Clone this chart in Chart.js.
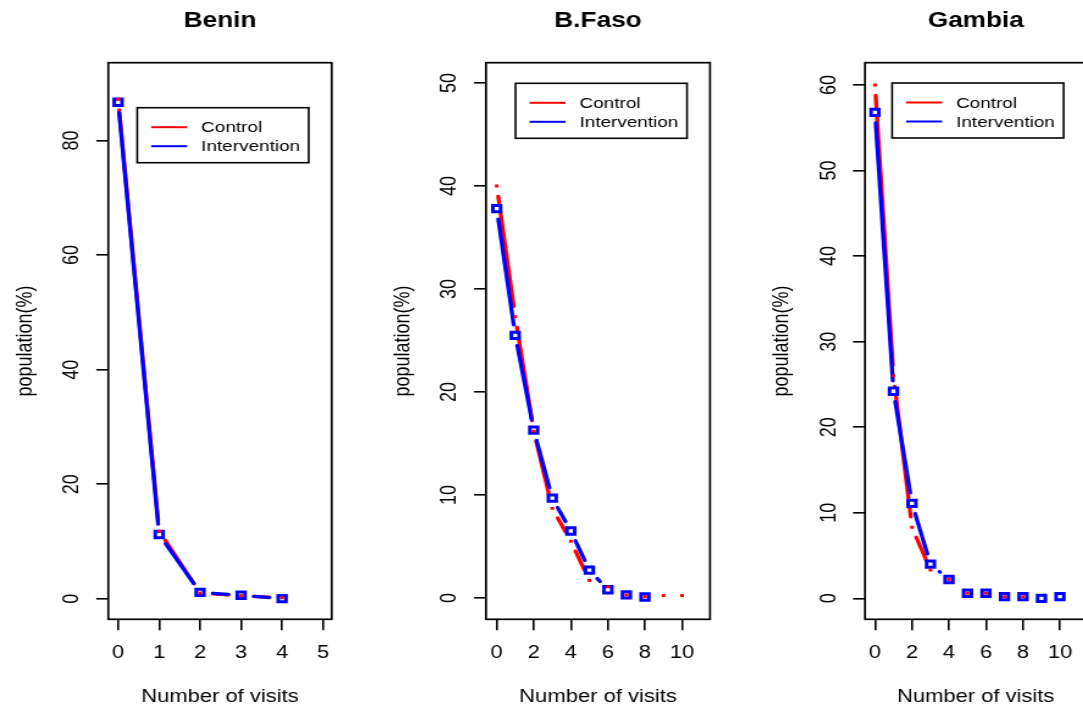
<!DOCTYPE html>
<html>
<head>
<meta charset="utf-8">
<script src="https://cdn.jsdelivr.net/npm/chart.js@4/dist/chart.umd.min.js"></script>
<style>
  html, body { margin: 0; padding: 0; background: #fff; overflow: hidden; width: 1083px; height: 709px; }
  canvas { position: absolute; top: 0; }
</style>
</head>
<body>
<canvas id="benin"></canvas>
<canvas id="bfaso"></canvas>
<canvas id="gambia"></canvas>
<script>
// values: population (%) by number of visits
const seriesNames = ['Control', 'Intervention'];

const beninControlVisits = [0, 1, 2, 3, 4];
const beninControl = [87.2, 11.8, 1.0, 0.5, 0.15];
const beninInterventionVisits = [0, 1, 2, 3, 4];
const beninIntervention = [86.7, 11.2, 1.1, 0.6, 0.0];
const beninXTicks = [0, 1, 2, 3, 4, 5];
const beninYTicks = [0, 20, 40, 60, 80];

const bfasoControlVisits = [0, 1, 2, 3, 4, 5, 6, 7, 8, 9, 10];
const bfasoControl = [40.0, 27.3, 16.2, 8.7, 5.5, 1.7, 1.1, 0.3, 0.15, 0.25, 0.25];
const bfasoInterventionVisits = [0, 1, 2, 3, 4, 5, 6, 7, 8];
const bfasoIntervention = [37.8, 25.5, 16.3, 9.7, 6.5, 2.7, 0.8, 0.3, 0.1];
const bfasoXTicks = [0, 2, 4, 6, 8, 10];
const bfasoYTicks = [0, 10, 20, 30, 40, 50];

const gambiaControlVisits = [0, 1, 2, 3, 4, 5, 6, 7, 8];
const gambiaControl = [60.0, 26.0, 8.3, 3.3, 2.2, 0.6, 0.6, 0.2, 0.2];
const gambiaInterventionVisits = [0, 1, 2, 3, 4, 5, 6, 7, 8, 9, 10];
const gambiaIntervention = [56.8, 24.2, 11.1, 4.0, 2.2, 0.6, 0.6, 0.2, 0.2, 0.0, 0.2];
const gambiaXTicks = [0, 2, 4, 6, 8, 10];
const gambiaYTicks = [0, 10, 20, 30, 40, 50, 60];

// the original picture is horizontally stretched, so each canvas is drawn narrow and widened by css
const STRETCH = 1.22;
const FONT = '"Liberation Sans", Arial, Helvetica, sans-serif';
const RED = '#ff0000';
const BLUE = '#0000ff';

Chart.defaults.font.family = FONT;
Chart.defaults.color = '#000';

const panels = [
  { id: 'benin', title: 'Benin', cssLeft: 0, cssWidth: 360, boxL: 108.3, boxR: 331.7,
    xMin: -0.24, xMax: 5.21, yMin: -3.6, yMax: 93.6, legendTop: 45,
    control: [beninControlVisits, beninControl], intervention: [beninInterventionVisits, beninIntervention],
    xTicks: beninXTicks, yTicks: beninYTicks },
  { id: 'bfaso', title: 'B.Faso', cssLeft: 380, cssWidth: 360, boxL: 486, boxR: 710,
    xMin: -0.577, xMax: 11.51, yMin: -2.07, yMax: 51.97, legendTop: 20.6,
    control: [bfasoControlVisits, bfasoControl], intervention: [bfasoInterventionVisits, bfasoIntervention],
    xTicks: bfasoXTicks, yTicks: bfasoYTicks },
  { id: 'gambia', title: 'Gambia', cssLeft: 760, cssWidth: 340, boxL: 865, boxR: 1086.6,
    xMin: -0.54, xMax: 11.44, yMin: -2.45, yMax: 62.6, legendTop: 20.3,
    control: [gambiaControlVisits, gambiaControl], intervention: [gambiaInterventionVisits, gambiaIntervention],
    xTicks: gambiaXTicks, yTicks: gambiaYTicks }
];

const H = 709, BOX_TOP = 62.7, BOX_BOTTOM = 619.3;

function pairs(xs, ys) {
  return xs.map((x, i) => ({ x: x, y: ys[i] }));
}

// R style: lines of type "b" (segments stop short of the points), frame box and boxed legend
const rStyle = {
  id: 'rStyle',
  beforeDatasetsDraw(chart, args, opts) {
    const ctx = chart.ctx, a = chart.chartArea, gap = opts.gap;
    ctx.save();
    ctx.beginPath();
    ctx.rect(a.left, a.top, a.width, a.height);
    ctx.clip();
    chart.data.datasets.forEach((ds, i) => {
      const pts = chart.getDatasetMeta(i).data;
      ctx.strokeStyle = ds.borderColor;
      ctx.lineWidth = ds.borderWidth;
      ctx.lineCap = 'round';
      ctx.beginPath();
      for (let k = 0; k < pts.length - 1; k++) {
        const p = pts[k], q = pts[k + 1];
        const dx = q.x - p.x, dy = q.y - p.y, len = Math.hypot(dx, dy);
        if (len <= 2 * gap) continue;
        const f = gap / len;
        ctx.moveTo(p.x + dx * f, p.y + dy * f);
        ctx.lineTo(q.x - dx * f, q.y - dy * f);
      }
      ctx.stroke();
    });
    ctx.restore();
  },
  afterDatasetsDraw(chart, args, opts) {
    const ctx = chart.ctx, a = chart.chartArea, sx = opts.sx;
    ctx.save();
    ctx.strokeStyle = '#000';
    ctx.lineWidth = 1.7;
    ctx.strokeRect(a.left, a.top, a.width, a.height);

    // legend box
    const w = 171.5 / sx, h = 55;
    const lx = a.right - 23 / sx - w;
    const ly = a.top + opts.legendTop;
    ctx.fillStyle = '#fff';
    ctx.fillRect(lx, ly, w, h);
    ctx.lineWidth = 1.6;
    ctx.strokeRect(lx, ly, w, h);
    ctx.font = '15.5px ' + FONT;
    ctx.textBaseline = 'middle';
    ctx.textAlign = 'left';
    chart.data.datasets.forEach((ds, i) => {
      const y = ly + 19.5 + i * 19;
      ctx.strokeStyle = ds.borderColor;
      ctx.lineWidth = 2;
      ctx.beginPath();
      ctx.moveTo(lx + 14 / sx, y);
      ctx.lineTo(lx + 50 / sx, y);
      ctx.stroke();
      ctx.fillStyle = '#000';
      ctx.fillText(ds.label, lx + 64 / sx, y + 1);
    });
    ctx.restore();
  }
};

panels.forEach(p => {
  const canvas = document.getElementById(p.id);
  const attrW = Math.round(p.cssWidth / STRETCH);
  const sx = p.cssWidth / attrW;
  canvas.width = attrW;
  canvas.height = H;
  canvas.style.left = p.cssLeft + 'px';
  canvas.style.width = p.cssWidth + 'px';
  canvas.style.height = H + 'px';

  const yWidth = (p.boxL - p.cssLeft) / sx;
  const padRight = (p.cssLeft + p.cssWidth - p.boxR) / sx;
  const yTitlePad = (p.boxL - 83 - p.cssLeft) / sx - 18 * 1.2 / 2;

  new Chart(canvas, {
    type: 'scatter',
    data: {
      datasets: [
        {
          label: seriesNames[0],
          data: pairs(p.control[0], p.control[1]),
          showLine: false,
          borderColor: RED,
          borderWidth: 3.3,
          pointStyle: 'rect',
          pointRadius: 2.1,
          pointBorderWidth: 0,
          pointBackgroundColor: RED,
          pointBorderColor: RED
        },
        {
          label: seriesNames[1],
          data: pairs(p.intervention[0], p.intervention[1]),
          showLine: false,
          borderColor: BLUE,
          borderWidth: 3.3,
          pointStyle: 'rect',
          pointRadius: 4.5,
          pointBorderWidth: 3,
          pointBackgroundColor: '#fff',
          pointBorderColor: BLUE
        }
      ]
    },
    options: {
      responsive: false,
      animation: false,
      events: [],
      layout: { padding: { left: 0, right: padRight, top: 0, bottom: 0 } },
      plugins: {
        legend: { display: false },
        tooltip: { enabled: false },
        title: {
          display: true,
          text: p.title,
          fullSize: false,
          color: '#000',
          font: { size: 21.5, weight: 'bold' },
          padding: { top: 8, bottom: BOX_TOP - 8 - 21.5 * 1.2 }
        },
        rStyle: { sx: sx, gap: 10.5, legendTop: p.legendTop }
      },
      scales: {
        x: {
          type: 'linear',
          min: p.xMin,
          max: p.xMax,
          afterBuildTicks: s => { s.ticks = p.xTicks.map(v => ({ value: v })); },
          afterFit: s => { s.height = H - BOX_BOTTOM; },
          border: { display: false },
          grid: { drawOnChartArea: false, drawTicks: true, tickLength: 11, color: '#000', lineWidth: 1.6 },
          ticks: { autoSkip: false, maxRotation: 0, minRotation: 0, padding: 12, color: '#000', font: { size: 18 } },
          title: { display: true, text: 'Number of visits', color: '#000', font: { size: 18 }, padding: { top: 0, bottom: 1.2 } }
        },
        y: {
          type: 'linear',
          min: p.yMin,
          max: p.yMax,
          afterBuildTicks: s => { s.ticks = p.yTicks.map(v => ({ value: v })); },
          afterFit: s => { s.width = yWidth; },
          border: { display: false },
          grid: { drawOnChartArea: false, drawTicks: true, tickLength: 12 / sx, color: '#000', lineWidth: 1.6 },
          ticks: { autoSkip: false, minRotation: 90, maxRotation: 90, crossAlign: 'center', padding: 9.5, color: '#000', font: { size: 18 } },
          title: { display: true, text: 'population(%)', color: '#000', font: { size: 18 }, padding: { top: yTitlePad, bottom: 0 } }
        }
      }
    },
    plugins: [rStyle]
  });
});
</script>
</body>
</html>
